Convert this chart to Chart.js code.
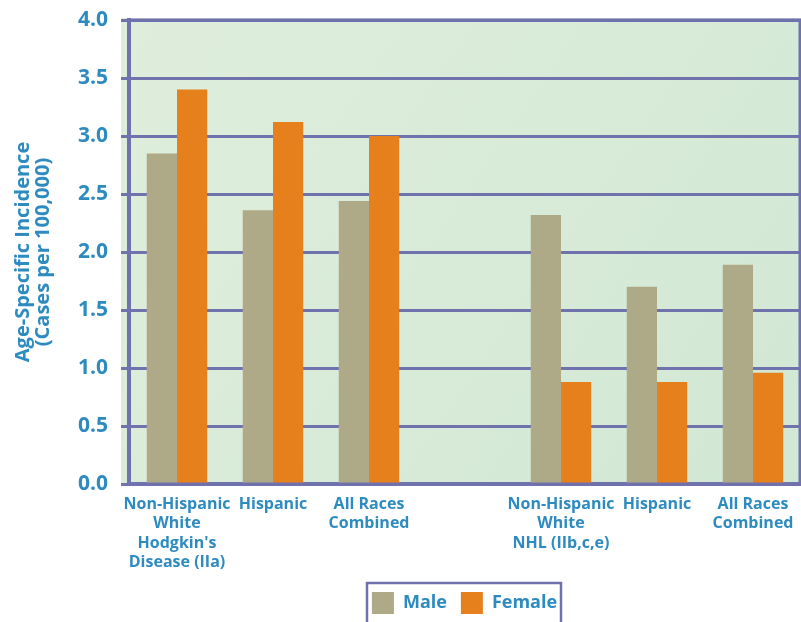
<!DOCTYPE html>
<html>
<head>
<meta charset="utf-8">
<script src="https://cdn.jsdelivr.net/npm/chart.js@4"></script>
<style>
  html, body { margin: 0; padding: 0; background: #fff; }
  #wrap { width: 801px; height: 622px; }
</style>
</head>
<body>
<div id="wrap"><canvas id="chart1"></canvas></div>
<script>
const categories = [
    ["Non-Hispanic", "White", "Hodgkin's", "Disease (IIa)"],
    ["Hispanic"],
    ["All Races", "Combined"],
    [""],
    ["Non-Hispanic", "White", "NHL (IIb,c,e)"],
    ["Hispanic"],
    ["All Races", "Combined"],
];
const maleValues = [2.85, 2.36, 2.44, null, 2.32, 1.70, 1.89];
const femaleValues = [3.40, 3.12, 3.00, null, 0.88, 0.88, 0.96];
const yTicks = [0, 0.5, 1, 1.5, 2, 2.5, 3, 3.5, 4];

const blue = "#2e8bc0";
const purple = "#6f72ac";
const fontFam = "'Open Sans', sans-serif";

// green plot background, frame round plot and legend
const framePlugin = {
    id: 'frame',
    afterLayout(chart) {
        // legend sits right of centre in the original
        chart.legend.left += 64;
        chart.legend.right += 64;
        chart.legend.top += 2;
        chart.legend.bottom += 2;
    },
    beforeDraw(chart) {
        const c = chart.ctx, a = chart.chartArea;
        const g = c.createLinearGradient(a.left, a.top, a.right, a.bottom);
        g.addColorStop(0, '#dfeedc');
        g.addColorStop(1, '#d1e8d4');
        c.save();
        c.fillStyle = g;
        c.fillRect(a.left - 8, a.top - 2, a.right - a.left + 8, a.bottom - a.top + 4);
        c.restore();
    },
    afterDraw(chart) {
        const c = chart.ctx, a = chart.chartArea;
        c.save();
        c.strokeStyle = purple;
        c.lineWidth = 3;
        c.beginPath();
        c.moveTo(a.left, a.top);
        c.lineTo(a.right - 1, a.top);
        c.lineTo(a.right - 1, a.bottom);
        c.stroke();
        c.lineWidth = 2.5;
        c.strokeRect(367, 583, 194, 60);
        c.restore();
    }
};

const chartdata = {
    labels: categories,
    datasets: [
        {
            label: 'Male',
            data: maleValues,
            backgroundColor: '#aeaa87',
            categoryPercentage: 0.63,
            barPercentage: 1.0,
        },
        {
            label: 'Female',
            data: femaleValues,
            backgroundColor: '#e6801d',
            categoryPercentage: 0.63,
            barPercentage: 1.0,
        },
    ],
};

const config = {
    type: 'bar',
    data: chartdata,
    plugins: [framePlugin],
    options: {
        responsive: true,
        maintainAspectRatio: false,
        animation: false,
        layout: { padding: { top: 20, right: 0, left: 0, bottom: 0 } },
        scales: {
            y: {
                min: 0,
                max: 4,
                afterBuildTicks: s => { s.ticks = yTicks.map(v => ({ value: v })); },
                afterFit: s => { s.width = 129; s.paddingTop = 0; s.paddingBottom = 0; },
                ticks: {
                    color: blue,
                    padding: 13,
                    font: { family: fontFam, size: 21, weight: 'bold' },
                    callback: v => v.toFixed(1),
                },
                grid: { color: purple, lineWidth: 3, tickLength: 8 },
                border: { color: purple, width: 4 },
                title: {
                    display: true,
                    text: ['Age-Specific Incidence', '(Cases per 100,000)'],
                    color: blue,
                    font: { family: fontFam, size: 20, weight: 'bold', lineHeight: 1.0 },
                    padding: { top: 13, bottom: 0 },
                },
            },
            x: {
                afterFit: s => { s.height = 92; },
                ticks: {
                    color: blue,
                    padding: 3,
                    maxRotation: 0,
                    autoSkip: false,
                    font: { family: fontFam, size: 16, weight: 'bold', lineHeight: 1.2 },
                },
                grid: { display: false },
                border: { color: purple, width: 4 },
            },
        },
        plugins: {
            legend: {
                position: 'bottom',
                labels: {
                    color: blue,
                    boxWidth: 22,
                    boxHeight: 22,
                    padding: 14,
                    font: { family: fontFam, size: 18, weight: 'bold' },
                },
            },
            tooltip: { enabled: false },
        },
    },
};

const newChart = new Chart(document.getElementById("chart1").getContext("2d"), config);
</script>
</body>
</html>
